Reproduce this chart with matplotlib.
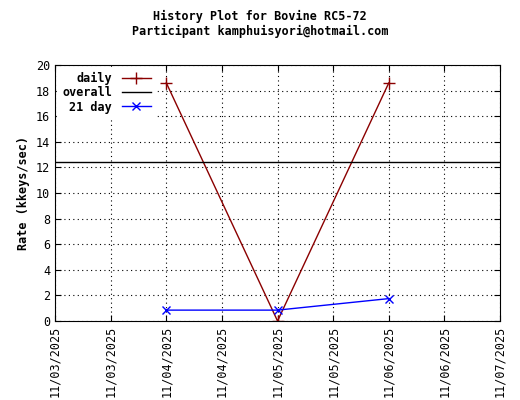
import matplotlib
matplotlib.use("Agg")
import matplotlib.pyplot as plt

# x positions in days from 11/03/2025
day_labels = ["11/03/2025", "11/03/2025", "11/04/2025", "11/04/2025", "11/05/2025",
              "11/05/2025", "11/06/2025", "11/06/2025", "11/07/2025"]
tick_days = [0, 0.5, 1, 1.5, 2, 2.5, 3, 3.5, 4]
point_days = [1, 2, 3]
daily = [18.6, 0.0, 18.6]
overall = 12.4
day21 = [0.85, 0.85, 1.75]

plt.rcParams["font.family"] = ["DejaVu Sans Mono"]
plt.rcParams["font.size"] = 8.5

fig = plt.figure(figsize=(5.2, 4.0), dpi=100)
ax = fig.add_axes([0.106, 0.1975, 0.8555, 0.64])

ax.plot(point_days, daily, color="#8b0000", marker="+", markersize=9, linewidth=1, label="daily")
ax.axhline(overall, color="black", linewidth=1, label="overall")
ax.plot(point_days, day21, color="blue", marker="x", markersize=6, linewidth=1, label="21 day")

ax.set_xlim(0, 4)
ax.set_ylim(0, 20)
ax.set_yticks(range(0, 21, 2))
ax.set_xticks(tick_days)
ax.set_xticklabels(day_labels, rotation=90)
ax.grid(True, color="black", linestyle=(0, (1, 3)), linewidth=0.8)
ax.tick_params(direction="in", length=4, top=True, right=True)
ax.set_ylabel("Rate (kkeys/sec)", fontweight="bold")
fig.suptitle("History Plot for Bovine RC5-72\nParticipant kamphuisyori@hotmail.com",
             y=0.975, fontsize=8.5, fontweight="bold")

leg = ax.legend(loc="upper left", frameon=True, markerfirst=False, handlelength=2.5,
                borderaxespad=0.2, labelspacing=0.1, prop={"weight": "bold"})
leg.get_frame().set_edgecolor("white")
leg.get_frame().set_alpha(1)
for t in leg.get_texts():
    t.set_ha("right")
leg._legend_box.align = "right"

fig.savefig("out.png", dpi=100, facecolor="white")
